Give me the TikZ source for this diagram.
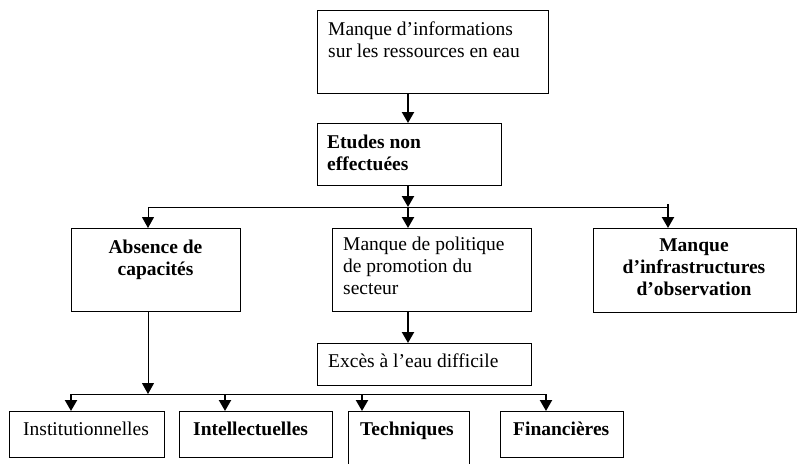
\documentclass[tikz,border=0pt]{standalone}
\usepackage{fontspec}
\setmainfont{Liberation Serif}
\usetikzlibrary{arrows.meta}
\begin{document}
\begin{tikzpicture}[x=1pt,y=-1pt,
  box/.style={draw, line width=0.9pt, inner sep=0pt, anchor=north west},
  lbl/.style={inner sep=0pt, anchor=north west, align=left, font=\fontsize{19.5}{22}\selectfont},
  clbl/.style={inner sep=0pt, anchor=north, align=center, font=\fontsize{19.5}{22}\selectfont},
  tip/.tip={Triangle[width=12pt 0 0,length=11pt 0 0]},
  thinline/.style={line width=1pt},
  thinarrow/.style={line width=1pt, -tip},
  thickarrow/.style={line width=2.2pt, -tip}]
\useasboundingbox (0,0) rectangle (797,463);
\clip (0,0) rectangle (797,463);
% boxes
\node[box, minimum width=231pt, minimum height=83pt] (top) at (317,10) {};
\node[box, minimum width=184pt, minimum height=62pt] (etudes) at (317,123) {};
\node[box, minimum width=169pt, minimum height=83pt] (absence) at (71,228) {};
\node[box, minimum width=199pt, minimum height=83pt] (politique) at (332,228) {};
\node[box, minimum width=203pt, minimum height=84pt] (infra) at (593,228) {};
\node[box, minimum width=214pt, minimum height=42pt] (exces) at (317,343) {};
\node[box, minimum width=155pt, minimum height=46pt] (inst) at (9,411) {};
\node[box, minimum width=153pt, minimum height=46pt] (intel) at (179,411) {};
\node[box, minimum width=121pt, minimum height=80pt] (tech) at (348,411) {};
\node[box, minimum width=123pt, minimum height=46pt] (fin) at (500,411) {};
% labels
\node[lbl] (ttop) at (328,19.6) {\strut Manque d’informations\\sur les ressources en eau};
\node[lbl] (tetudes) at (327,132.6) {\strut\textbf{Etudes non}\\\textbf{effectuées}};
\node[clbl] (tabsence) at (155.5,237.6) {\strut\textbf{Absence de}\\\textbf{capacités}};
\node[lbl] (tpolitique) at (343,234.6) {\strut Manque de politique\\de promotion du\\secteur};
\node[clbl] (tinfra) at (694,235.6) {\strut\textbf{Manque}\\\textbf{d’infrastructures}\\\textbf{d’observation}};
\node[lbl] (texces) at (328,351.6) {\strut Excès à l’eau difficile};
\node[lbl] (tinst) at (23,419.6) {\strut Institutionnelles};
\node[lbl] (tintel) at (193,419.6) {\strut\textbf{Intellectuelles}};
\node[lbl] (ttech) at (360,419.6) {\strut\textbf{Techniques}};
\node[lbl] (tfin) at (513,419.6) {\strut\textbf{Financières}};
% junctions
\coordinate (c1) at (408,207);
\coordinate (L1) at (148,207);
\coordinate (R1) at (668,207);
\coordinate (R0) at (668,204);
\coordinate (c2) at (148,394);
\coordinate (b1) at (71,394);
\coordinate (b2) at (225,394);
\coordinate (b3) at (362,394);
\coordinate (b4) at (546,394);
% connectors
\draw[thickarrow] (top.south -| c1) -- (etudes.north -| c1);
\draw[thickarrow] (etudes.south -| c1) -- (c1);
\draw[thinline] (L1) -- (R1);
\draw[thinarrow] (L1) -- (absence.north -| L1);
\draw[thickarrow] (c1) -- (politique.north -| c1);
\draw[thickarrow] (R0) -- (infra.north -| R0);
\draw[thickarrow] (politique.south -| c1) -- (exces.north -| c1);
\draw[thinarrow] (absence.south -| c2) -- (c2);
\draw[thinline] (b1) -- (b4);
\draw[thickarrow] (b1) -- (inst.north -| b1);
\draw[thickarrow] (b2) -- (intel.north -| b2);
\draw[thickarrow] (b3) -- (tech.north -| b3);
\draw[thickarrow] (b4) -- (fin.north -| b4);
\end{tikzpicture}
\end{document}
